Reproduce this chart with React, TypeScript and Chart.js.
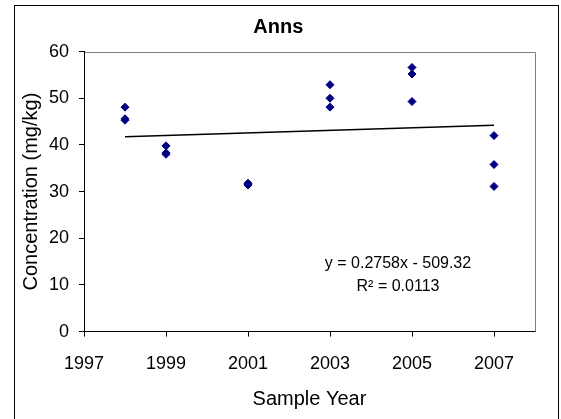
import React, { useEffect, useRef } from "react";
import { Chart, registerables } from "chart.js";

Chart.register(...registerables);

const chartTitle = "Anns";
const xAxisTitle = "Sample Year";
const yAxisTitle = "Concentration (mg/kg)";

const sampleYears = [
  1998, 1998, 1998,
  1999, 1999, 1999,
  2001, 2001, 2001,
  2003, 2003, 2003,
  2005, 2005, 2005,
  2007, 2007, 2007,
];
const concentrations = [
  48.1, 45.6, 45.3,
  39.8, 38.3, 38.0,
  31.8, 31.6, 31.4,
  52.9, 50.0, 48.1,
  56.6, 55.2, 49.3,
  42.0, 35.8, 31.1,
];

const xTickYears = [1997, 1999, 2001, 2003, 2005, 2007];
const xMin = 1997;
const xMax = 2008;
const yMin = 0;
const yMax = 60;
const yStep = 10;

const trendSlope = 0.2758;
const trendIntercept = -509.32;
const trendYears = [1998, 2007];
const equationLines = ["y = 0.2758x - 509.32", "R² = 0.0113"];

const FONT = '"Liberation Sans", Arial, Helvetica, sans-serif';

const framePlugin = {
  id: "frame",
  afterDraw(chart: any) {
    const { ctx, chartArea: a } = chart;
    ctx.save();
    ctx.lineWidth = 1;
    ctx.strokeStyle = "#000";
    ctx.strokeRect(14.5, 5.5, 544, 1000);
    ctx.strokeStyle = "#808080";
    ctx.beginPath();
    const top = Math.round(a.top) + 0.5;
    const right = Math.round(a.right) + 0.5;
    ctx.moveTo(a.left + 1, top);
    ctx.lineTo(right, top);
    ctx.lineTo(right, a.bottom);
    ctx.stroke();
    ctx.fillStyle = "#000";
    ctx.font = `16px ${FONT}`;
    ctx.textAlign = "center";
    ctx.textBaseline = "alphabetic";
    ctx.fillText(equationLines[0], 398, 268);
    ctx.fillText(equationLines[1], 398, 291);
    ctx.restore();
  },
};

export default function App() {
  const ref = useRef<HTMLCanvasElement | null>(null);

  useEffect(() => {
    if (!ref.current) return;
    const points = sampleYears.map((x, i) => ({ x, y: concentrations[i] }));
    const trend = trendYears.map((x) => ({ x, y: trendSlope * x + trendIntercept }));
    const chart = new Chart(ref.current, {
      type: "scatter",
      data: {
        datasets: [
          {
            label: "Anns",
            data: points,
            pointStyle: "rectRot",
            pointRadius: 4,
            pointBorderWidth: 1,
            backgroundColor: "#000080",
            borderColor: "#000080",
          },
          {
            type: "line",
            label: "Trend",
            data: trend,
            showLine: true,
            pointRadius: 0,
            borderColor: "#000",
            borderWidth: 1.5,
            fill: false,
          } as any,
        ],
      },
      options: {
        responsive: false,
        animation: false,
        layout: { padding: { left: 21.6, right: 26, top: 0, bottom: 0 } },
        plugins: {
          legend: { display: false },
          tooltip: { enabled: false },
          title: {
            display: true,
            text: chartTitle,
            color: "#000",
            font: { family: FONT, size: 20, weight: "bold", lineHeight: 1.2 },
            padding: { top: 15.1, bottom: 12.5 },
          },
        },
        scales: {
          x: {
            type: "linear",
            min: xMin,
            max: xMax,
            afterBuildTicks: (scale: any) => {
              scale.ticks = xTickYears.map((v) => ({ value: v }));
            },
            afterFit: (scale: any) => {
              scale.height = 87.4;
            },
            ticks: {
              color: "#000",
              font: { family: FONT, size: 18 },
              padding: 17,
              maxRotation: 0,
              autoSkip: false,
              callback: (v: any) => String(v),
            },
            grid: {
              display: true,
              drawOnChartArea: false,
              drawTicks: true,
              tickLength: 5,
              color: "#000",
            },
            border: { display: true, color: "#000", width: 1 },
            title: {
              display: true,
              text: xAxisTitle,
              color: "#000",
              font: { family: FONT, size: 20, lineHeight: 1.2 },
              padding: { top: 0, bottom: 7.2 },
            },
          },
          y: {
            type: "linear",
            min: yMin,
            max: yMax,
            afterFit: (scale: any) => {
              scale.width = 62.4;
            },
            ticks: {
              stepSize: yStep,
              color: "#000",
              font: { family: FONT, size: 18 },
              padding: 10,
            },
            grid: {
              display: true,
              drawOnChartArea: false,
              drawTicks: true,
              tickLength: 5,
              color: "#000",
            },
            border: { display: true, color: "#000", width: 1 },
            title: {
              display: true,
              text: yAxisTitle,
              color: "#000",
              font: { family: FONT, size: 20, lineHeight: 1 },
              padding: { top: 0, bottom: 0 },
            },
          },
        },
      },
      plugins: [framePlugin],
    });
    return () => chart.destroy();
  }, []);

  return (
    <div style={{ position: "fixed", left: 0, top: 0, width: 561, height: 419, background: "#fff" }}>
      <canvas ref={ref} width={561} height={419} style={{ display: "block", width: 561, height: 419 }} />
    </div>
  );
}
